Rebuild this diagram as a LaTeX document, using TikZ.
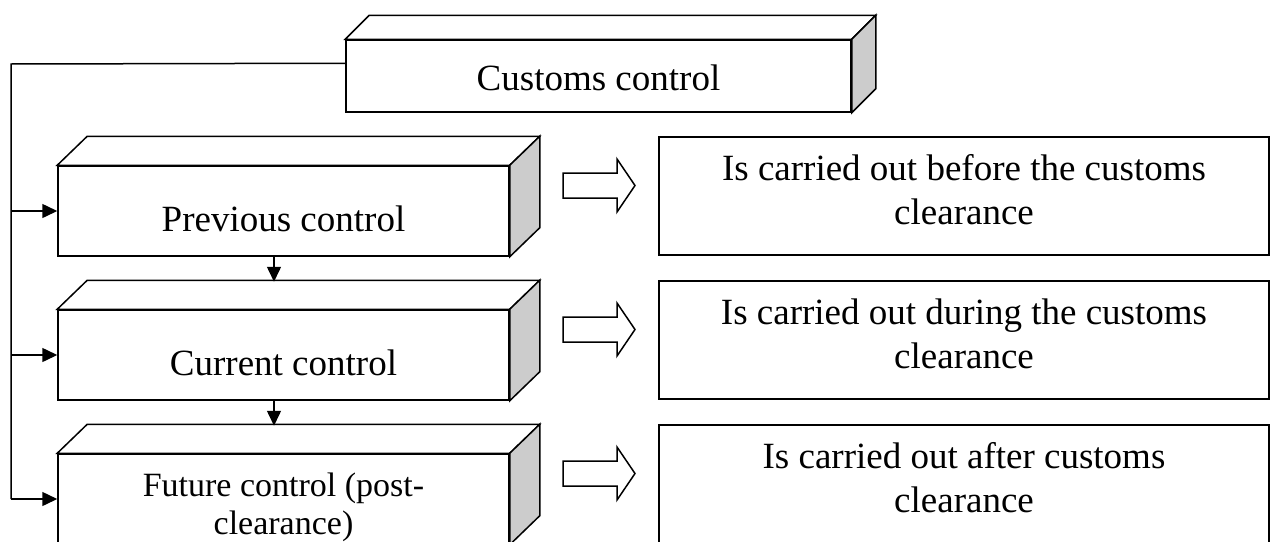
\documentclass[tikz,border=0pt]{standalone}
\usepackage{fontspec}
\setmainfont{Liberation Serif}
\usetikzlibrary{arrows.meta,calc}
\definecolor{sidegray}{RGB}{204,204,204}
\newcommand\depthfaces[3]{%
  \filldraw[fill=white,line join=miter] (#1.north west) -- ++(#2,-#3) -- ($(#1.north east)+(#2,-#3)$) -- (#1.north east) -- cycle;
  \filldraw[fill=sidegray,line join=miter] (#1.north east) -- ++(#2,-#3) -- ($(#1.south east)+(#2,-#3)$) -- (#1.south east) -- cycle;
}
\newcommand\hollowarrow[1]{%
  \draw[line join=miter] ($(#1)+(0,-12.5)$) -- ++(54,0) -- ++(0,-14) -- ++(18,26.5) -- ++(-18,26.5) -- ++(0,-14) -- ++(-54,0) -- cycle;
}
\begin{document}
\begin{tikzpicture}[x=1pt,y=-1pt,line width=1.5pt,
  front/.style={draw,fill=white,inner sep=0pt,minimum width=#1},
  rbox/.style={draw,fill=white,inner sep=0pt,minimum width=610pt,minimum height=118pt},
  big/.style={font=\fontsize{37}{44}\selectfont,align=center,inner sep=0pt},
  small/.style={font=\fontsize{34}{38}\selectfont,align=center,inner sep=0pt},
  arr/.style={-{Triangle[length=15pt,width=14pt]}}]
\clip (0,0) rectangle (1272,541);
\fill[white] (0,0) rectangle (1272,541);
% top box
\node[front=505pt,minimum height=72pt] (top) at (598.5,76) {};
\depthfaces{top}{24}{24}
\node[big] (ttop) at (598.5,78) {Customs control};
% left boxes
\node[front=451pt,minimum height=90pt] (b1) at (283.5,211) {};
\depthfaces{b1}{30}{29}
\node[front=451pt,minimum height=90pt] (b2) at (283.5,355) {};
\depthfaces{b2}{30}{29}
\node[front=451pt,minimum height=90pt] (b3) at (283.5,499) {};
\depthfaces{b3}{30}{29}
\node[big] (t1) at (283.5,219) {Previous control};
\node[big] (t2) at (283.5,363) {Current control};
\node[small] (t3) at (283.5,507) {Future control (post-\\clearance)};
% right boxes
\node[rbox] (r1) at (964,196) {};
\node[rbox] (r2) at (964,340) {};
\node[rbox] (r3) at (964,484) {};
\node[big] (s1) at (964,190) {Is carried out before the customs\\clearance};
\node[big] (s2) at (964,334) {Is carried out during the customs\\clearance};
\node[big] (s3) at (964,478) {Is carried out after customs\\clearance};
% hollow arrows
\coordinate (h1) at (563,185.5);
\coordinate (h2) at (563,329.5);
\coordinate (h3) at (563,473.5);
\hollowarrow{h1}
\hollowarrow{h2}
\hollowarrow{h3}
% left trunk
\coordinate (tl) at ($(top.north west)+(0,24)$);
\coordinate (trunk) at (11,64);
\draw (tl) -- (trunk) -- (trunk |- b3.west);
\draw[arr] (trunk |- b1.west) -- (b1.west);
\draw[arr] (trunk |- b2.west) -- (b2.west);
\draw[arr] (trunk |- b3.west) -- (b3.west);
% down arrows
\draw[arr] ([xshift=-9.5pt]b1.south) -- ++(0,25);
\draw[arr] ([xshift=-9.5pt]b2.south) -- ++(0,25);
\end{tikzpicture}
\end{document}
